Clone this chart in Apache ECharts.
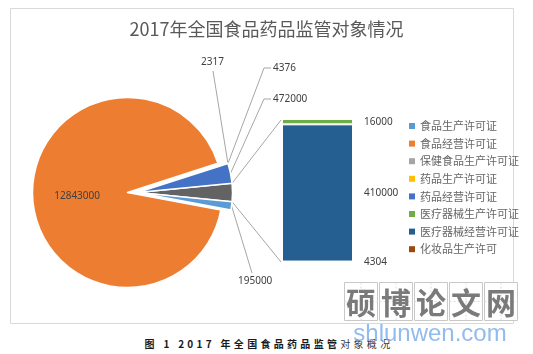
<!DOCTYPE html>
<html>
<head>
<meta charset="utf-8">
<script src="https://cdn.jsdelivr.net/npm/echarts@6/dist/echarts.min.js"></script>
<style>
  body { margin: 0; background: #fff; }
  #caption {
    position: absolute; left: 0; top: 336px; width: 538px; text-align: center;
    font: bold 10px "Noto Sans CJK SC", sans-serif; letter-spacing: 3.3px; color: #1a1a1a;
  }
  #caption span { font-weight: normal; color: #333; }
  #main { position: absolute; left: 0; top: 0; width: 533px; height: 354px; }
</style>
</head>
<body>
<div id="caption">图 1 2017 年全国食品药品监管<span>对象概况</span></div>
<div id="main"></div>
<script type="text/javascript">

var categories = ['食品生产许可证', '食品经营许可证', '保健食品生产许可证', '药品生产许可证',
                  '药品经营许可证', '医疗器械生产许可证', '医疗器械经营许可证', '化妆品生产许可'];
var counts = [195000, 12843000, 2317, 4376, 472000, 16000, 410000, 4304];
var colors = ['#5b9bd5', '#ed7d31', '#a5a5a5', '#ffc000', '#4472c4', '#70ad47', '#255e91', '#9e480e'];
var otherColor = '#636363';

// first five go in the pie, last three are the "other" bar
var pieIdx = [0, 1, 2, 3, 4];
var barIdx = [5, 6, 7];
var bigIdx = 1;

var barTotal = 0;
barIdx.forEach(function (i) { barTotal += counts[i]; });
var total = 0;
counts.forEach(function (v) { total += v; });

var cx = 127.5, cy = 192.5, R = 95, OFF = 10;

// pie order, clockwise from the "other" slice
function buildPie(showBig) {
  var out = [{ name: '其他', value: barTotal,
               itemStyle: showBig ? { color: 'transparent', borderWidth: 0 } : { color: otherColor },
               label: { show: false }, labelLine: { show: false } }];
  pieIdx.forEach(function (i) {
    var visible = (i === bigIdx) === showBig;
    var item = { name: categories[i], value: counts[i] };
    if (visible) {
      item.itemStyle = { color: colors[i] };
      if (i === bigIdx) item.label = { position: 'inside' };
    } else {
      item.itemStyle = { color: 'transparent', borderWidth: 0 };
      item.label = { show: false };
      item.labelLine = { show: false };
    }
    out.push(item);
  });
  return out;
}
var bigPie = buildPie(true);
var smallPie = buildPie(false);

// slice mid angles (deg) for leader lines
var otherDeg = barTotal / total * 360;
var startAngle = otherDeg / 2;
var midAngle = {};
var cur = startAngle;
smallPie.forEach(function (d) {
  var deg = d.value / total * 360;
  midAngle[d.name] = cur - deg / 2;
  cur -= deg;
});

// where the pie labels sit (left / middle of text) and their bends
var labelSpots = {
  '保健食品生产许可证': { x: 201, y: 62, bend: [213, 71], end: [213, 71] },
  '药品生产许可证': { x: 273, y: 68, bend: [264, 68], end: [271, 68] },
  '药品经营许可证': { x: 273, y: 99, bend: [264, 99], end: [271, 99] },
  '食品生产许可证': { x: 238, y: 281, bend: [252, 273], end: [252, 273] }
};

function slicePoint(name) {
  var a = midAngle[name] * Math.PI / 180;
  return [cx + OFF + R * Math.cos(a), cy - R * Math.sin(a)];
}

// stack from bottom: 化妆品, 医疗器械经营, 医疗器械生产
var barSeries = barIdx.slice().reverse().map(function (i) {
  return {
    name: categories[i],
    type: 'bar',
    stack: 'other',
    barWidth: '100%',
    data: [counts[i]],
    itemStyle: { color: colors[i], borderColor: '#fff', borderWidth: 1 },
    label: {
      show: true, position: 'right', distance: 11, formatter: '{c}',
      fontFamily: 'Noto Sans', fontSize: 10, color: '#404040'
    }
  };
});

var pieBase = {
  type: 'pie',
  radius: R,
  startAngle: startAngle,
  avoidLabelOverlap: false,
  minShowLabelAngle: 0,
  silent: true,
  itemStyle: { borderColor: '#fff', borderWidth: 1.5 },
  emphasis: { disabled: true },
  label: { show: true, formatter: '{c}', fontFamily: 'Noto Sans', fontSize: 10, color: '#404040' },
  labelLine: { show: true, lineStyle: { color: '#a6a6a6', width: 1 } }
};

var myChart = echarts.init(document.getElementById('main'));

var option = {
  animation: false,
  backgroundColor: 'transparent',
  title: {
    text: '2017年全国食品药品监管对象情况',
    left: 'center',
    top: 20,
    padding: [0, 14, 0, 0],
    textStyle: { fontFamily: 'Noto Sans CJK SC', fontWeight: 'normal', fontSize: 18, color: '#595959' }
  },
  legend: {
    orient: 'vertical',
    left: 404,
    top: 115,
    itemWidth: 6,
    itemHeight: 6,
    itemGap: 5.6,
    icon: 'rect',
    selectedMode: false,
    data: categories.map(function (name, i) {
      return { name: name, itemStyle: { color: colors[i], borderWidth: 0 } };
    }),
    textStyle: { fontFamily: 'Noto Sans CJK SC', fontSize: 11, lineHeight: 12, color: '#666666' }
  },
  grid: { left: 282, top: 119, width: 71, height: 144 },
  xAxis: { type: 'category', data: ['其他'], show: false },
  yAxis: { type: 'value', min: 0, max: barTotal, show: false },
  series: [
    Object.assign({}, pieBase, { center: [cx, cy], data: bigPie }),
    Object.assign({}, pieBase, {
      center: [cx + OFF, cy],
      data: smallPie,
      labelLayout: function (params) {
        var name = smallPie[params.dataIndex].name;
        var s = labelSpots[name];
        if (!s) return {};
        return {
          x: s.x, y: s.y, align: 'left', verticalAlign: 'middle',
          labelLinePoints: [slicePoint(name), s.bend, s.end]
        };
      }
    })
  ].concat(barSeries)
};

myChart.setOption(option);

// connector lines from the "other" slice to the bar, plus frame and watermark
var a = startAngle * Math.PI / 180;
var topEdge = [cx + OFF + R * Math.cos(a), cy - R * Math.sin(a)];
var botEdge = [cx + OFF + R * Math.cos(a), cy + R * Math.sin(a)];
var barTop = myChart.convertToPixel({ yAxisIndex: 0 }, barTotal);
var barBot = myChart.convertToPixel({ yAxisIndex: 0 }, 0);
var barLeft = 283;

var graphics = [
  { type: 'rect', z: -10, shape: { x: 10.5, y: 8.5, width: 503, height: 315 },
    style: { fill: 'none', stroke: '#d9d9d9', lineWidth: 1 } },
  { type: 'line', shape: { x1: topEdge[0], y1: topEdge[1], x2: barLeft - 2, y2: barTop + 1 },
    style: { stroke: '#a6a6a6', lineWidth: 1 } },
  { type: 'line', shape: { x1: botEdge[0], y1: botEdge[1], x2: barLeft - 2, y2: barBot - 1 },
    style: { stroke: '#a6a6a6', lineWidth: 1 } }
];

var wmChars = ['硕', '博', '论', '文', '网'];
wmChars.forEach(function (ch, k) {
  var x = 344.5 + k * 35, y = 282.5, w = 33, h = 38;
  graphics.push({ type: 'rect', shape: { x: x, y: y, width: w, height: h },
    style: { fill: '#fff', stroke: '#c8c8c8', lineWidth: 1 } });
  graphics.push({ type: 'line', shape: { x1: x + w / 2, y1: y, x2: x + w / 2, y2: y + h },
    style: { stroke: '#dcdcdc', lineWidth: 1, lineDash: [2, 2] } });
  graphics.push({ type: 'line', shape: { x1: x, y1: y + h / 2, x2: x + w, y2: y + h / 2 },
    style: { stroke: '#dcdcdc', lineWidth: 1, lineDash: [2, 2] } });
  graphics.push({ type: 'text', x: x + w / 2, y: y + h / 2 + 1,
    style: { text: ch, fill: '#7a7a7a', fontSize: 30, fontWeight: 'bold',
             fontFamily: 'Noto Sans CJK SC', align: 'center', verticalAlign: 'middle' } });
});
graphics.push({ type: 'text', x: 430, y: 334,
  style: { text: 'shlunwen.com', fill: 'rgba(120,170,230,0.8)', fontSize: 24,
           fontFamily: 'Liberation Sans', align: 'center', verticalAlign: 'middle' } });

myChart.setOption({ graphic: graphics });

</script>
</body>
</html>
